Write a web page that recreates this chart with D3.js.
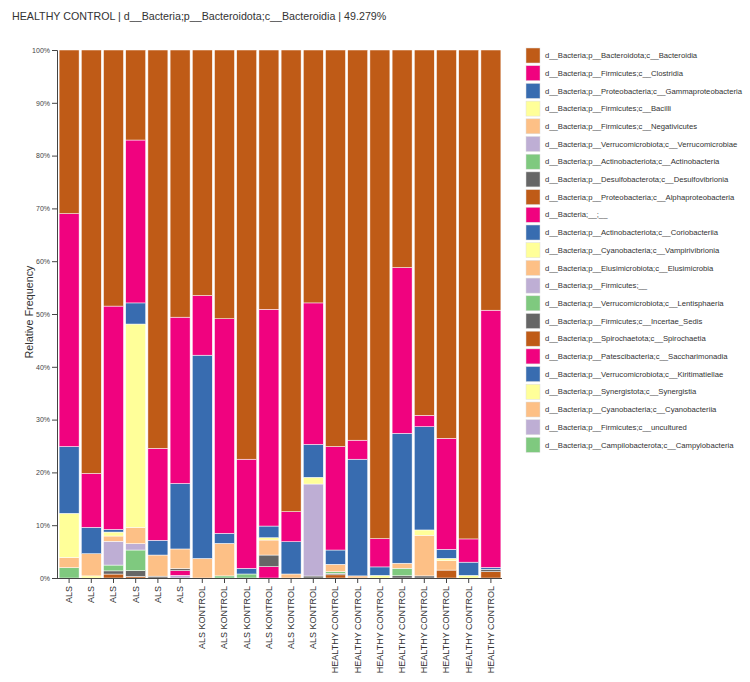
<!DOCTYPE html>
<html>
<head>
<meta charset="utf-8">
<script src="https://cdn.jsdelivr.net/npm/d3@7"></script>
<style>
  body { margin: 0; background: #fff; }
  svg { font-family: "Liberation Sans", Arial, sans-serif; }
</style>
</head>
<body>
<svg id="chart" width="750" height="682"></svg>
<script>
// ---------------- DATA ----------------
const samples = [
  "ALS","ALS","ALS","ALS","ALS","ALS",
  "ALS KONTROL","ALS KONTROL","ALS KONTROL","ALS KONTROL","ALS KONTROL","ALS KONTROL",
  "HEALTHY CONTROL","HEALTHY CONTROL","HEALTHY CONTROL","HEALTHY CONTROL",
  "HEALTHY CONTROL","HEALTHY CONTROL","HEALTHY CONTROL","HEALTHY CONTROL"
];

const taxa = [
  "d__Bacteria;p__Bacteroidota;c__Bacteroidia",
  "d__Bacteria;p__Firmicutes;c__Clostridia",
  "d__Bacteria;p__Proteobacteria;c__Gammaproteobacteria",
  "d__Bacteria;p__Firmicutes;c__Bacilli",
  "d__Bacteria;p__Firmicutes;c__Negativicutes",
  "d__Bacteria;p__Verrucomicrobiota;c__Verrucomicrobiae",
  "d__Bacteria;p__Actinobacteriota;c__Actinobacteria",
  "d__Bacteria;p__Desulfobacterota;c__Desulfovibrionia",
  "d__Bacteria;p__Proteobacteria;c__Alphaproteobacteria",
  "d__Bacteria;__;__",
  "d__Bacteria;p__Actinobacteriota;c__Coriobacteriia",
  "d__Bacteria;p__Cyanobacteria;c__Vampirivibrionia",
  "d__Bacteria;p__Elusimicrobiota;c__Elusimicrobia",
  "d__Bacteria;p__Firmicutes;__",
  "d__Bacteria;p__Verrucomicrobiota;c__Lentisphaeria",
  "d__Bacteria;p__Firmicutes;c__Incertae_Sedis",
  "d__Bacteria;p__Spirochaetota;c__Spirochaetia",
  "d__Bacteria;p__Patescibacteria;c__Saccharimonadia",
  "d__Bacteria;p__Verrucomicrobiota;c__Kiritimatiellae",
  "d__Bacteria;p__Synergistota;c__Synergistia",
  "d__Bacteria;p__Cyanobacteria;c__Cyanobacteriia",
  "d__Bacteria;p__Firmicutes;c__uncultured",
  "d__Bacteria;p__Campilobacterota;c__Campylobacteria"
];

// relative frequency (%) of each class, one value per sample (same order as samples)
const bacteroidia      = [31, 80.2, 48.5, 17.05, 75.45, 50.6, 46.5, 50.9, 77.5, 49.11, 87.44, 47.9, 75.1, 73.9, 92.55, 41.2, 69.2, 73.54, 92.6, 49.279];
const clostridia       = [44.1, 10.2, 42.3, 30.85, 17.4, 31.5, 11.3, 40.64, 20.67, 41.05, 5.68, 26.8, 19.6, 3.6, 5.35, 31.4, 2.14, 21.03, 4.4, 48.721];
const gammaproteo      = [12.65, 5.0, 0.5, 4.0, 2.8, 12.4, 38.5, 1.9, 1.07, 2.21, 6.12, 6.23, 2.7, 22.1, 1.6, 24.6, 19.56, 1.7, 2.5, 0.35];
const bacilli          = [8.35, 0, 0.75, 38.5, 0, 0, 0, 0, 0, 0.44, 0, 1.27, 0, 0, 0, 0, 1.0, 0.45, 0, 0];
const negativicutes    = [1.95, 4.2, 1.0, 3.1, 4.0, 3.7, 3.7, 6.16, 0, 2.84, 0.76, 0, 1.4, 0.4, 0, 0.95, 7.7, 1.78, 0, 0];
const verrucomicrobiae = [0, 0, 4.5, 1.2, 0, 0, 0, 0, 0, 0, 0, 17.42, 0, 0, 0, 0, 0, 0, 0, 0];
const actinobacteria   = [1.95, 0, 1.1, 3.9, 0, 0, 0, 0.4, 0.76, 0, 0, 0, 0.3, 0, 0, 1.43, 0, 0, 0, 0];
const desulfovibrionia = [0, 0, 0.6, 1.1, 0.35, 0.4, 0, 0, 0, 2.2, 0, 0.38, 0.3, 0, 0, 0.42, 0.4, 0, 0, 0.45];
const alphaproteo      = [0, 0, 0.75, 0.3, 0, 0, 0, 0, 0, 0, 0, 0, 0.6, 0, 0, 0, 0, 1.5, 0, 1.2];
const bacteriaUnknown  = [0, 0, 0, 0, 0, 0.9, 0, 0, 0, 2.15, 0, 0, 0, 0, 0, 0, 0, 0, 0, 0];
const coriobacteriia   = [0, 0, 0, 0, 0, 0, 0, 0, 0, 0, 0, 0, 0, 0, 0, 0, 0, 0, 0, 0];
const vampirivibrionia = [0, 0, 0, 0, 0, 0, 0, 0, 0, 0, 0, 0, 0, 0, 0, 0, 0, 0, 0, 0];
const elusimicrobia    = [0, 0, 0, 0, 0, 0, 0, 0, 0, 0, 0, 0, 0, 0, 0, 0, 0, 0, 0, 0];
const firmicutesNA     = [0, 0, 0, 0, 0, 0.5, 0, 0, 0, 0, 0, 0, 0, 0, 0, 0, 0, 0, 0, 0];
const lentisphaeria    = [0, 0, 0, 0, 0, 0, 0, 0, 0, 0, 0, 0, 0, 0, 0, 0, 0, 0, 0, 0];
const incertaeSedis    = [0, 0, 0, 0, 0, 0, 0, 0, 0, 0, 0, 0, 0, 0, 0, 0, 0, 0, 0, 0];
const spirochaetia     = [0, 0, 0, 0, 0, 0, 0, 0, 0, 0, 0, 0, 0, 0, 0, 0, 0, 0, 0, 0];
const saccharimonadia  = [0, 0, 0, 0, 0, 0, 0, 0, 0, 0, 0, 0, 0, 0, 0, 0, 0, 0, 0, 0];
const kiritimatiellae  = [0, 0, 0, 0, 0, 0, 0, 0, 0, 0, 0, 0, 0, 0, 0, 0, 0, 0, 0, 0];
const synergistia      = [0, 0.4, 0, 0, 0, 0, 0, 0, 0, 0, 0, 0, 0, 0, 0.5, 0, 0, 0, 0.5, 0];
const cyanobacteriia   = [0, 0, 0, 0, 0, 0, 0, 0, 0, 0, 0, 0, 0, 0, 0, 0, 0, 0, 0, 0];
const uncultured       = [0, 0, 0, 0, 0, 0, 0, 0, 0, 0, 0, 0, 0, 0, 0, 0, 0, 0, 0, 0];
const campylobacteria  = [0, 0, 0, 0, 0, 0, 0, 0, 0, 0, 0, 0, 0, 0, 0, 0, 0, 0, 0, 0];

const seriesValues = [
  bacteroidia, clostridia, gammaproteo, bacilli, negativicutes, verrucomicrobiae,
  actinobacteria, desulfovibrionia, alphaproteo, bacteriaUnknown, coriobacteriia,
  vampirivibrionia, elusimicrobia, firmicutesNA, lentisphaeria, incertaeSedis,
  spirochaetia, saccharimonadia, kiritimatiellae, synergistia, cyanobacteriia,
  uncultured, campylobacteria
];

const yTicks = [0, 10, 20, 30, 40, 50, 60, 70, 80, 90, 100];
const titleText = "HEALTHY CONTROL | d__Bacteria;p__Bacteroidota;c__Bacteroidia | 49.279%";
const yLabel = "Relative Frequency";
const palette = ["#bf5b17", "#f0027f", "#386cb0", "#ffff99", "#fdc086", "#beaed4", "#7fc97f", "#666666"];

// ---------------- CHART ----------------
const color = d3.scaleOrdinal().domain(taxa).range(palette);

const svg = d3.select("#chart");

const rows = samples.map((s, i) => {
  const r = { idx: i, sample: s };
  taxa.forEach((t, k) => { r[t] = seriesValues[k][i]; });
  return r;
});

const x = d3.scaleBand().domain(d3.range(samples.length)).range([58, 502])
  .paddingInner(0.1).paddingOuter(0.05);
const y = d3.scaleLinear().domain([0, 100]).range([578, 50]);

// stack: last legend item at bottom, first on top
const stackKeys = taxa.slice().reverse();
const stacked = d3.stack().keys(stackKeys)(rows);

const gBars = svg.append("g");
gBars.selectAll("g.layer").data(stacked).join("g")
  .attr("class", "layer")
  .attr("fill", d => color(d.key))
  .selectAll("rect")
  .data(d => d.filter(p => p[1] - p[0] > 0))
  .join("rect")
  .attr("x", d => x(d.data.idx))
  .attr("width", x.bandwidth())
  .attr("y", d => y(d[1]))
  .attr("height", d => y(d[0]) - y(d[1]))
  .attr("stroke", "#fff")
  .attr("stroke-width", 0.5);

// y axis
const yAxis = d3.axisLeft(y).tickValues(yTicks).tickSize(5).tickPadding(2)
  .tickFormat(d => d + "%");
const gy = svg.append("g").attr("transform", "translate(57,0)").call(yAxis);
gy.selectAll("text").attr("font-size", 7).attr("fill", "#444")
  .attr("font-family", "Liberation Sans, Arial, sans-serif");
gy.selectAll("line, path").attr("stroke", "#444");

// x axis
const xAxis = d3.axisBottom(x).tickSize(5).tickPadding(2).tickFormat(i => samples[i]);
const gx = svg.append("g").attr("transform", "translate(0,578)").call(xAxis);
gx.select(".domain").attr("d", "M57,0.5H502");
gx.selectAll("line, path").attr("stroke", "#444");
gx.selectAll("text")
  .attr("font-size", 9)
  .attr("fill", "#333")
  .attr("font-family", "Liberation Sans, Arial, sans-serif")
  .attr("text-anchor", "end")
  .attr("transform", "rotate(-90)")
  .attr("x", -8)
  .attr("y", 0)
  .attr("dy", "0.32em");

// y label
svg.append("text")
  .attr("transform", "translate(33,312) rotate(-90)")
  .attr("text-anchor", "middle")
  .attr("font-size", 10.8)
  .attr("fill", "#333")
  .text(yLabel);

// title
svg.append("text")
  .attr("x", 12).attr("y", 20)
  .attr("font-size", 10.7)
  .attr("fill", "#333")
  .text(titleText);

// legend
const legend = svg.append("g").attr("transform", "translate(526,48)");
const li = legend.selectAll("g").data(taxa).join("g")
  .attr("transform", (d, i) => `translate(0,${i * 17.7})`);
li.append("rect").attr("width", 14).attr("height", 15)
  .attr("fill", d => color(d)).attr("stroke", "#ddd").attr("stroke-width", 0.5);
li.append("text").attr("x", 19).attr("y", 7.5).attr("dy", "0.35em")
  .attr("font-size", 7.7).attr("fill", "#333").text(d => d);
</script>
</body>
</html>
